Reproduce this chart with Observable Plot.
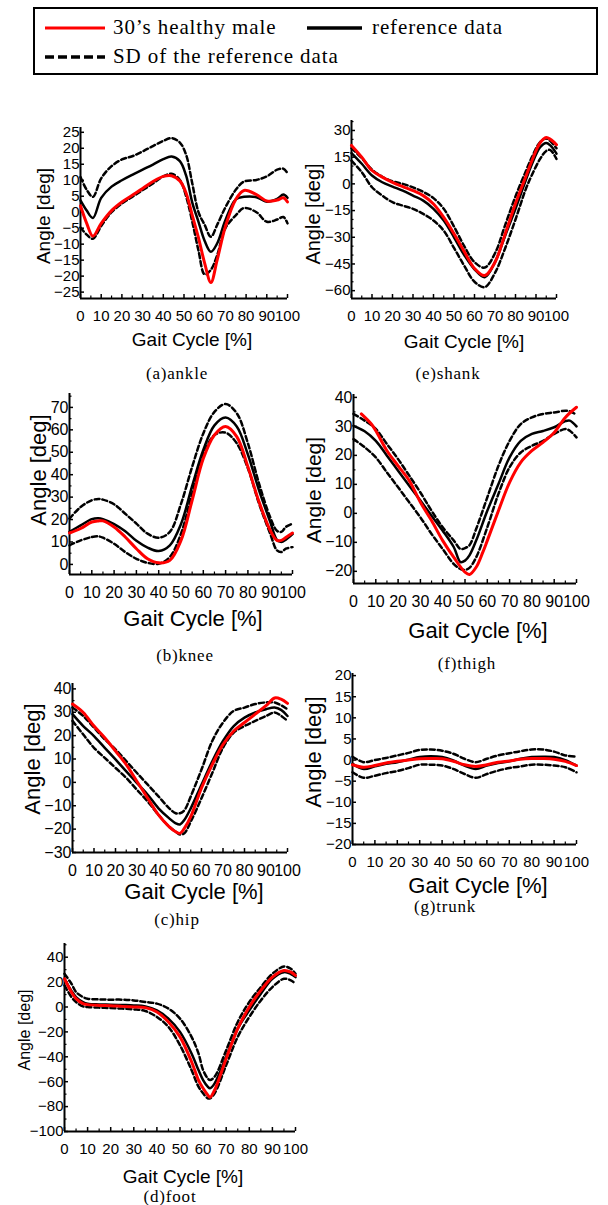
<!DOCTYPE html>
<html><head><meta charset="utf-8">
<script src="https://cdn.jsdelivr.net/npm/d3@7"></script>
<script src="https://cdn.jsdelivr.net/npm/@observablehq/plot@0.6"></script>
<style>
body{margin:0;background:#fff;}
#wrap{position:relative;width:608px;height:1205px;overflow:hidden;font-family:"Liberation Sans",Arial,sans-serif;color:#000;}
.t{position:absolute;white-space:nowrap;line-height:1;}
.c{transform:translate(-50%,-50%);}
.r{transform:translate(-50%,-50%) rotate(-90deg);}
.serif{font-family:"Liberation Serif","Times New Roman",serif;}
</style></head><body><div id="wrap"></div>
<script>
// ---------- data ----------
const xTicks = [0,10,20,30,40,50,60,70,80,90,100];
const xMinorTicks = [5,15,25,35,45,55,65,75,85,95];

const ankleX = [0,3,6,10,15,20,25,30,35,40,44,48,51,54,57,60,63,66,70,75,79,85,90,95,98,100];
const ankleMean = [3.7,0.5,-1.8,4.5,8,10,11.7,13.3,14.9,16.6,17.4,16,11.5,3,-3,-9,-12.4,-9.8,-2.5,4,4.8,4.7,3.3,4.2,5.5,4.5];
const ankleUpper = [11,7,4.8,10.6,14.4,16.5,17.5,19,20.7,22.3,23.2,21.8,18,9,0,-4,-7.7,-4,1.5,7,9.6,10.1,11.2,13.3,13.6,12.2];
const ankleLower = [-4.8,-7,-8.3,-4.3,0,2.7,4.8,6.9,9,11.2,12,10.1,5,-3,-12,-19.5,-18,-13.5,-5,-1,1.3,0,-3,-2.3,-1.5,-3.5];
const ankleSubject = [2,-3.5,-7.5,-3.5,0.5,3.2,5.3,7.4,9.6,11.2,11.4,9.8,6,-1,-8,-16,-22,-15,-4.5,4,6.8,5.5,3.5,3.8,4.5,3.2];
const ankleYTicks = [-25,-20,-15,-10,-5,0,5,10,15,20,25];

const shankX = [0,5,10,15,20,25,30,35,40,45,50,55,60,65,70,75,80,85,88,92,95,97,100];
const shankMean = [17.3,11.3,4.7,0.9,-1.5,-3.8,-6.6,-9.4,-14,-20.6,-30,-40,-48,-52.5,-44,-29,-14,2,11,20.6,23,21.6,17];
const shankUpper = [20,14.5,8,4,1.5,0,-2,-4.5,-8,-14,-24,-35,-44,-47,-39,-23,-7,7,15,23.5,25.5,24,20];
const shankLower = [13,6.6,-1.9,-6.6,-10.3,-12.2,-14,-16.9,-20.6,-26.3,-36,-46,-55,-58,-50,-36,-20,-3,5,14,18.5,19,14];
const shankSubject = [21.6,15,7.5,3.8,0.9,-1.5,-3.8,-6.6,-11.3,-18.8,-28,-38,-47.5,-51.5,-44,-28,-11,4,13,23,26,25,22];
const shankYTicks = [-60,-45,-30,-15,0,15,30];
const shankYMinor = [-55,-50,-40,-35,-25,-20,-10,-5,5,10,20,25,35];

const kneeX = [0,5,10,13,15,20,25,30,35,40,45,50,55,60,65,70,75,80,85,90,93,95,97,100];
const kneeMean = [14.5,17.4,20.2,20.6,20.2,18,14.8,10.5,7.5,6,8.5,18,35,51,62,65.5,61.5,49,33,19,11,10,11,13.5];
const kneeUpper = [20.4,25.6,28.6,29.2,28.9,26.8,22.6,18.2,13.7,11.9,14.5,27,43.5,58.4,68,71.5,67.4,54,36,21,15,14.5,16.7,18.2];
const kneeLower = [8.5,10.7,12.2,12.5,11.9,9.2,5.5,2.5,0.7,0.3,3.3,13.7,31.6,48.7,57.7,58.7,54,42.8,27.1,13.7,6.3,5.5,7,7.7];
const kneeSubject = [14,16,18.9,19.4,19.4,16.7,12.2,7,2.5,0.7,1.8,10.7,28.6,47.2,57.7,61.5,57,43.5,27.9,15.2,10.7,10.7,12,14];
const kneeYTicks = [0,10,20,30,40,50,60,70];
const kneeYMinor = [5,15,25,35,45,55,65,75];

const thighX = [0,5,10,15,20,25,30,35,40,45,48,50,52,55,60,65,70,75,80,85,90,95,97,100];
const thighMean = [30.2,28.3,25,19.9,14.7,9.5,4.4,-0.8,-6,-11.7,-16.8,-16.3,-14.5,-9.4,0.9,10.1,19.3,25,27.4,28.4,29.7,31.8,32,30];
const thighUpper = [34.3,32,29.1,23.9,18.7,13,7.2,0.9,-4.8,-9.4,-12.3,-12,-11,-5.4,5.5,16.4,25,30.8,33.1,34.3,34.8,35.4,35.2,34];
const thighLower = [25.6,22.8,19.3,14.1,9,3.8,-1.4,-7.1,-12.3,-17.5,-19.2,-19.5,-18.8,-15.2,-4.8,6.7,15.9,21,23.3,25,27.4,29.1,28.5,26.2];
const thighSubjectX = [3.5,8,10,15,20,25,30,35,40,45,50,52,55,58,60,65,70,75,80,85,90,95,100];
const thighSubject = [34.3,30.8,28.5,21.6,16.4,11.3,3.8,-2.5,-9.4,-15.2,-20.3,-21.1,-18.6,-13.4,-9.4,0.9,10.7,17.6,21.6,24.5,27.9,33.1,36.6];
const thighYTicks = [-20,-10,0,10,20,30,40];
const thighYMinor = [-15,-5,5,15,25,35];

const hipX = [0,5,10,15,20,25,30,35,40,45,48,50,52,55,60,65,70,75,80,85,90,94,97,100];
const hipMean = [29.2,24.1,19.8,14.8,9.8,4.7,-0.3,-5.3,-11.1,-15.4,-17.5,-18,-16.1,-11.1,-1,9,17.7,24.1,27.7,29.9,31.3,32,31,28.4];
const hipUpper = [32,28.4,23.4,18.4,14.1,9.1,4,-1,-6,-11.1,-13.2,-13.2,-12,-6,5.5,17.7,25.6,30.6,32,33.5,34.2,34.2,33,31.3];
const hipLower = [26.3,20.5,14.8,10.5,6.2,1.9,-3.2,-8.2,-13.9,-19,-21.1,-22.3,-21.8,-16.8,-6.8,4,14.8,21.3,24.1,26.3,28.4,29.9,28.5,26.3];
const hipSubject = [33.5,29.9,24.1,19.1,13.4,7.6,0.4,-6.8,-13.9,-19,-21.1,-21.8,-19.7,-14.7,-2.4,7.6,16.2,22,25.6,29.2,32.8,36.1,35.6,33.8];
const hipYTicks = [-30,-20,-10,0,10,20,30,40];
const hipYMinor = [-25,-15,-5,5,15,25,35];

const trunkX = [0,5,10,15,20,25,30,35,40,45,50,55,60,65,70,75,80,85,90,95,100];
const trunkMean = [-0.9,-2.1,-1.5,-0.9,-0.5,0.1,0.7,0.9,0.7,-0.1,-1.3,-2.1,-1.3,-0.7,-0.3,0.3,0.7,0.8,0.7,0,-1.3];
const trunkUpper = [0.8,-0.5,0,0.5,1.1,1.7,2.4,2.5,2.2,1.5,0.3,-0.5,0.3,1.1,1.6,2.1,2.5,2.5,2,1.1,0.8];
const trunkLower = [-2.9,-4.2,-3.7,-3.1,-2.6,-1.9,-1.1,-1.1,-1.3,-2.1,-3.3,-4.2,-3.3,-2.5,-1.9,-1.5,-1.1,-1.1,-1.3,-1.7,-2.9];
const trunkSubject = [-1.1,-1.7,-1.3,-0.7,-0.3,0,0.3,0.35,0.3,-0.3,-1.1,-1.5,-1.1,-0.5,-0.2,0.2,0.35,0.35,0.2,-0.3,-1.3];
const trunkYTicks = [-20,-15,-10,-5,0,5,10,15,20];

const footX = [0,3,5,8,10,15,20,25,30,35,40,45,50,55,58,60,62,63,65,70,75,80,85,90,95,98,100];
const footMean = [22.7,13,8,4,2.7,2.1,1.9,1.6,1.3,0.5,-2.7,-9.3,-20,-37.3,-50.7,-58.7,-64,-65.3,-61.3,-40,-17.3,-2.7,10.7,22.7,28,26.5,24];
const footUpper = [26.7,18.7,12,8,6.7,6.1,5.9,5.9,5.3,4,2.7,-1.3,-9.3,-24,-37.3,-50.7,-57.3,-58.7,-56,-34.7,-12,4,16,26.7,32.5,30.7,26.7];
const footLower = [17.3,8,4,0.5,0,-0.5,-0.8,-1.3,-1.9,-3.2,-8,-16,-30.7,-50.7,-64,-69.3,-73.3,-73.3,-69.3,-46.7,-24,-8,5.3,16,22.7,21.3,18.7];
const footSubject = [22.7,12,6.7,2.7,1.9,1.3,1.1,0.5,0,-0.5,-4,-12,-24,-44,-58.7,-65.3,-70.7,-72.5,-66.7,-41.3,-17.3,0,13.3,24,29.3,28,25.3];
const footYTicks = [-100,-80,-60,-40,-20,0,20,40];
const footYMinor = [-90,-70,-50,-30,-10,10,30,50];

const legendLabels = ["30’s healthy male", "reference data", "SD of the reference data"];
const yTitle = "Angle [deg]";
const xTitle = "Gait Cycle [%]";

// ---------- layout ----------
const panels = [
  {cap:"(a)ankle", x:ankleX, mean:ankleMean, upper:ankleUpper, lower:ankleLower, sx:ankleX, sub:ankleSubject, yt:ankleYTicks, ym:[], dom:[-27,26.5],
   left:80, top:127, w:207, h:171, fs:15, yl:[43,216,19], xl:[192,339,19], cp:[177,373]},
  {cap:"(e)shank", x:shankX, mean:shankMean, upper:shankUpper, lower:shankLower, sx:shankX, sub:shankSubject, yt:shankYTicks, ym:shankYMinor, dom:[-64.4,35.6],
   left:351, top:120, w:205, h:178, fs:15, yl:[313,214,20], xl:[464,341,19], cp:[448,373]},
  {cap:"(b)knee", x:kneeX, mean:kneeMean, upper:kneeUpper, lower:kneeLower, sx:kneeX, sub:kneeSubject, yt:kneeYTicks, ym:kneeYMinor, dom:[-4.5,76.2],
   left:69, top:393, w:223, h:181, fs:16, yl:[39,470,22], xl:[193,619,22], cp:[185,655]},
  {cap:"(f)thigh", x:thighX, mean:thighMean, upper:thighUpper, lower:thighLower, sx:thighSubjectX, sub:thighSubject, yt:thighYTicks, ym:thighYMinor, dom:[-24.2,41],
   left:353, top:394, w:223, h:189, fs:16, yl:[313,490,21], xl:[478,631,22], cp:[467,663]},
  {cap:"(c)hip", x:hipX, mean:hipMean, upper:hipUpper, lower:hipLower, sx:hipX, sub:hipSubject, yt:hipYTicks, ym:hipYMinor, dom:[-30,42.3],
   left:72, top:683, w:215, h:169, fs:16, yl:[33,759,22], xl:[194,892,22], cp:[177,919]},
  {cap:"(g)trunk", x:trunkX, mean:trunkMean, upper:trunkUpper, lower:trunkLower, sx:trunkX, sub:trunkSubject, yt:trunkYTicks, ym:[], dom:[-20,20.5],
   left:352, top:673, w:224, h:171, fs:15, yl:[314,752,22], xl:[478,886,22], cp:[445,906]},
  {cap:"(d)foot", x:footX, mean:footMean, upper:footUpper, lower:footLower, sx:footX, sub:footSubject, yt:footYTicks, ym:footYMinor, dom:[-100,51],
   left:64, top:943, w:231, h:188, fs:15, yl:[25,1030,16], xl:[183,1176,19], cp:[170,1196]}
];

const wrap = document.getElementById("wrap");
function addText(txt, x, y, fs, cls) {
  const d = document.createElement("div");
  d.className = "t " + cls;
  d.style.left = x + "px"; d.style.top = y + "px"; d.style.fontSize = fs + "px";
  d.textContent = txt;
  wrap.appendChild(d);
  return d;
}

// legend
const box = document.createElement("div");
box.style.cssText = "position:absolute;left:33px;top:7px;width:561px;height:64px;border:2px solid #000;";
wrap.appendChild(box);
const lsvg = document.createElementNS("http://www.w3.org/2000/svg", "svg");
lsvg.setAttribute("width", 608); lsvg.setAttribute("height", 80);
lsvg.style.cssText = "position:absolute;left:0;top:0;";
lsvg.innerHTML = '<line x1="45" y1="28" x2="105" y2="28" stroke="#f00" stroke-width="3"/>' +
  '<line x1="307" y1="28" x2="362" y2="28" stroke="#000" stroke-width="3.5"/>' +
  '<line x1="45" y1="57" x2="105" y2="57" stroke="#000" stroke-width="3.5" stroke-dasharray="9,4"/>';
wrap.appendChild(lsvg);
for (const [i, pos] of [[0,[113,27]],[1,[372,27]],[2,[113,56]]]) {
  const d = addText(legendLabels[i], pos[0], pos[1], 21, "serif");
  d.style.transform = "translateY(-50%)";
  d.style.letterSpacing = "0.9px";
}

const tickFont = '"Liberation Sans", Arial, sans-serif';
const mL = 46, mR = 24, mT = 12, mB = 34;
for (const p of panels) {
  const common = {x: p.x, curve: "catmull-rom", stroke: "#000", strokeWidth: 2.5};
  const marks = [
    Plot.axisX({ticks: xTicks, tickSize: -4, tickPadding: 16, fontSize: p.fs, label: null, strokeWidth: 1.5}),
    Plot.axisX({ticks: xMinorTicks, tickSize: -2.5, tickFormat: () => "", label: null, strokeWidth: 1.2}),
    Plot.axisY({ticks: p.yt, tickSize: -4, tickPadding: 5, fontSize: p.fs, label: null, strokeWidth: 1.5}),
    Plot.ruleX([0], {strokeWidth: 2}),
    Plot.ruleY([p.dom[0]], {strokeWidth: 2}),
    Plot.lineY(p.upper, {...common, strokeDasharray: "5,3"}),
    Plot.lineY(p.lower, {...common, strokeDasharray: "5,3"}),
    Plot.lineY(p.mean, common),
    Plot.lineY(p.sub, {x: p.sx, curve: "catmull-rom", stroke: "#ff0000", strokeWidth: 3})
  ];
  if (p.ym.length) marks.splice(3, 0, Plot.axisY({ticks: p.ym, tickSize: -2.5, tickFormat: () => "", label: null, strokeWidth: 1.2}));
  const svg = Plot.plot({
    width: p.w + mL + mR, height: p.h + mT + mB,
    marginLeft: mL, marginRight: mR, marginTop: mT, marginBottom: mB,
    x: {domain: [0, 100]}, y: {domain: p.dom},
    style: {background: "none", overflow: "visible", fontFamily: tickFont, fontSize: p.fs + "px", color: "#000"},
    marks
  });
  svg.style.position = "absolute";
  svg.style.left = (p.left - mL) + "px";
  svg.style.top = (p.top - mT) + "px";
  svg.style.maxWidth = "none";
  wrap.appendChild(svg);
  addText(yTitle, p.yl[0], p.yl[1], p.yl[2], "r");
  addText(xTitle, p.xl[0], p.xl[1], p.xl[2], "c");
  const c = addText(p.cap, p.cp[0], p.cp[1], 17, "c serif");
  c.style.letterSpacing = "0.8px";
}
</script></body></html>
